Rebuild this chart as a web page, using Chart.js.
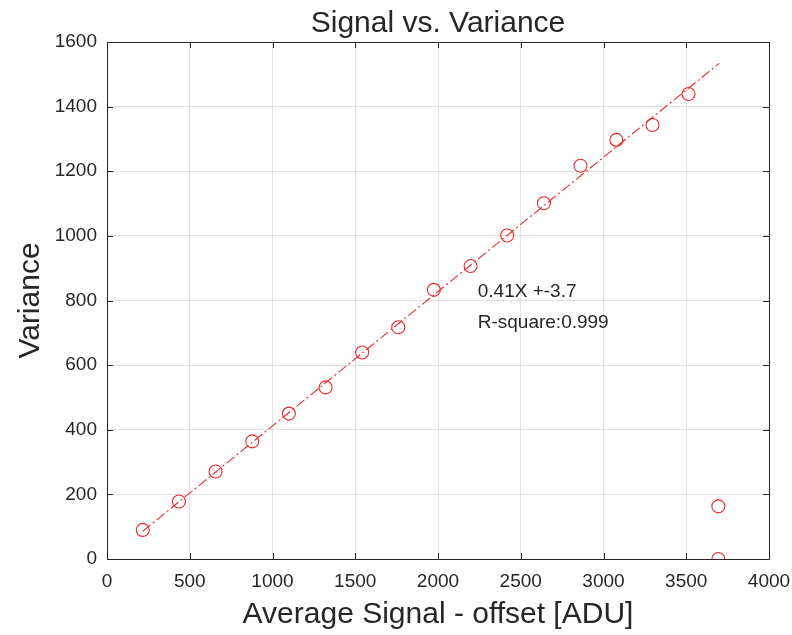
<!DOCTYPE html>
<html>
<head>
<meta charset="utf-8">
<title>Signal vs. Variance</title>
<script src="https://cdn.jsdelivr.net/npm/chart.js@4.4.1/dist/chart.umd.min.js"></script>
<style>
  html, body { margin: 0; padding: 0; background: #fff; }
  #wrap { width: 792px; height: 635px; }
</style>
</head>
<body>
<div id="wrap"><canvas id="chart" width="792" height="635"></canvas></div>
<script>
// measured points
const signal = [216, 435, 656, 878, 1099, 1321, 1542, 1760, 1975, 2197, 2418, 2640, 2861, 3078, 3296, 3514, 3694, 3694];
const variance = [90, 178, 271, 364, 450, 531, 639, 717, 833, 907, 1001, 1101, 1217, 1297, 1343, 1439, 163, 0];

// fitted line, end points
const fitX = [216, 3699];
const fitY = [86, 1534];

const xTicks = [0, 500, 1000, 1500, 2000, 2500, 3000, 3500, 4000];
const yTicks = [0, 200, 400, 600, 800, 1000, 1200, 1400, 1600];

const titleText = 'Signal vs. Variance';
const xLabel = 'Average Signal - offset [ADU]';
const yLabel = 'Variance';
const fitText = ['0.41X +-3.7', 'R-square:0.999'];
const fitTextPos = [[2240, 811], [2240, 715]];

const FONT = 'Arial, "Liberation Sans", Helvetica, sans-serif';
const TEXT = '#262626';
const RED = 'rgb(232,40,40)';

const toPoints = (xs, ys) => xs.map((x, i) => ({ x: x, y: ys[i] }));

// box around the plot, inner ticks on every side, title and fit text
const matlabAxes = {
    id: 'matlabAxes',
    afterDraw(chart) {
        const ctx = chart.ctx;
        const a = chart.chartArea;
        const xs = chart.scales.x, ys = chart.scales.y;
        const tl = 6;
        ctx.save();
        ctx.strokeStyle = TEXT;
        ctx.lineWidth = 1;
        ctx.beginPath();
        ctx.rect(Math.round(a.left) + 0.5, Math.round(a.top) + 0.5,
            Math.round(a.right - a.left), Math.round(a.bottom - a.top));
        xTicks.forEach(v => {
            const px = Math.round(xs.getPixelForValue(v)) + 0.5;
            ctx.moveTo(px, a.bottom); ctx.lineTo(px, a.bottom - tl);
            ctx.moveTo(px, a.top); ctx.lineTo(px, a.top + tl);
        });
        yTicks.forEach(v => {
            const py = Math.round(ys.getPixelForValue(v)) + 0.5;
            ctx.moveTo(a.left, py); ctx.lineTo(a.left + tl, py);
            ctx.moveTo(a.right, py); ctx.lineTo(a.right - tl, py);
        });
        ctx.stroke();

        ctx.fillStyle = TEXT;
        ctx.font = '30px ' + FONT;
        ctx.textAlign = 'center';
        ctx.textBaseline = 'alphabetic';
        ctx.fillText(titleText, (a.left + a.right) / 2, 32);

        ctx.font = '19px ' + FONT;
        ctx.textAlign = 'left';
        fitText.forEach((t, i) => {
            ctx.fillText(t, xs.getPixelForValue(fitTextPos[i][0]), ys.getPixelForValue(fitTextPos[i][1]));
        });
        ctx.restore();
    }
};

const ctx = document.getElementById('chart').getContext('2d');

new Chart(ctx, {
    type: 'scatter',
    data: {
        datasets: [
            {
                label: 'data',
                data: toPoints(signal, variance),
                pointStyle: 'circle',
                pointRadius: 6.5,
                pointHoverRadius: 6.5,
                borderWidth: 1.1,
                borderColor: RED,
                backgroundColor: 'rgba(0,0,0,0)',
                showLine: false
            },
            {
                label: 'fit',
                data: toPoints(fitX, fitY),
                showLine: true,
                pointRadius: 0,
                borderWidth: 1.1,
                borderColor: RED,
                borderDash: [10, 3, 2, 3],
                fill: false
            }
        ]
    },
    options: {
        responsive: false,
        animation: false,
        layout: { padding: { top: 42, right: 23, left: 0, bottom: 0 } },
        plugins: {
            legend: { display: false },
            tooltip: { enabled: false },
            title: { display: false }
        },
        scales: {
            x: {
                type: 'linear',
                min: 0,
                max: 4000,
                afterFit: s => { s.height = 76; s.paddingRight = 0; s.paddingLeft = 0; },
                afterBuildTicks: s => { s.ticks = xTicks.map(v => ({ value: v })); },
                grid: { color: '#e2e2e2', drawTicks: false },
                border: { display: false },
                ticks: { color: TEXT, font: { family: FONT, size: 19 }, padding: 11, maxRotation: 0,
                    callback: v => String(v) },
                title: { display: true, text: xLabel, color: TEXT, font: { family: FONT, size: 30 }, padding: { top: 0, bottom: 2 } }
            },
            y: {
                type: 'linear',
                min: 0,
                max: 1600,
                afterFit: s => { s.width = 107; s.paddingTop = 0; s.paddingBottom = 0; },
                afterBuildTicks: s => { s.ticks = yTicks.map(v => ({ value: v })); },
                grid: { color: '#e2e2e2', drawTicks: false },
                border: { display: false },
                ticks: { color: TEXT, font: { family: FONT, size: 19 }, padding: 10,
                    callback: v => String(v) },
                title: { display: true, text: yLabel, color: TEXT, font: { family: FONT, size: 30 }, padding: { top: 13, bottom: 0 } }
            }
        }
    },
    plugins: [matlabAxes]
});
</script>
</body>
</html>
